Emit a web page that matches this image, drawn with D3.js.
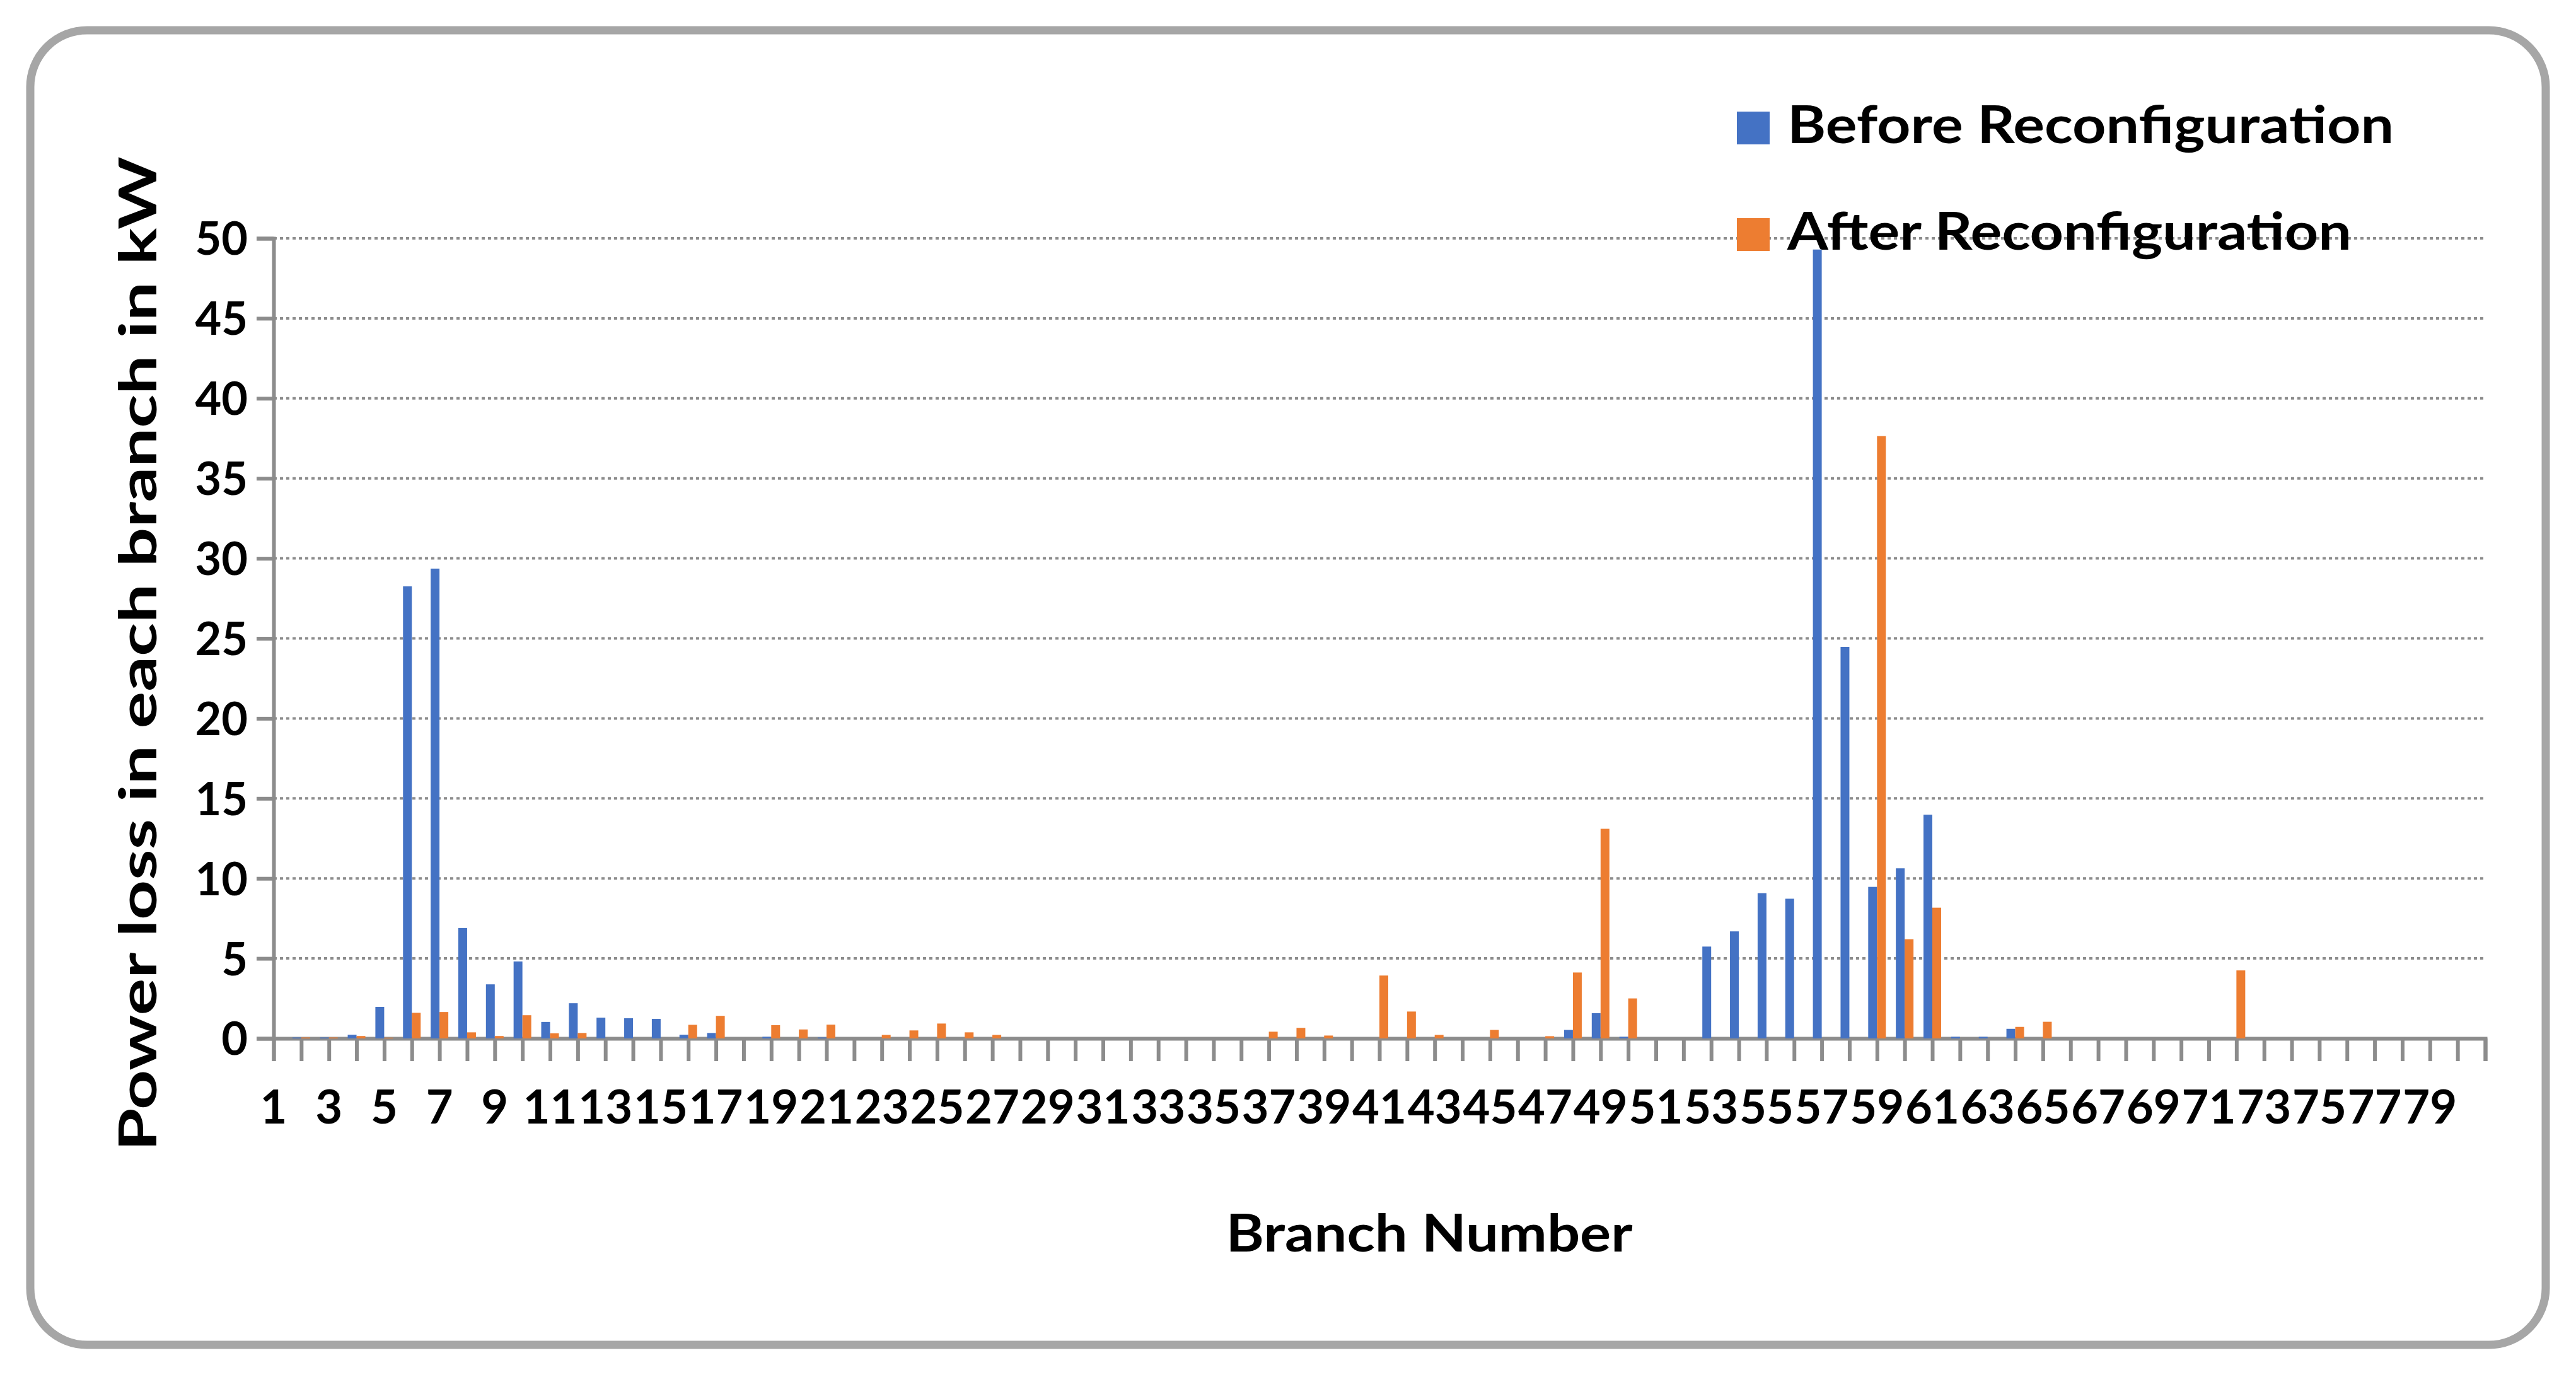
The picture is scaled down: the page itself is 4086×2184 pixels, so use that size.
<!DOCTYPE html>
<html><head><meta charset="utf-8">
<script src="https://cdn.jsdelivr.net/npm/d3@7"></script>
<style>body{margin:0;background:#fff}svg{display:block}</style>
</head><body>
<script>
const categories = d3.range(1, 82);
const beforeValues = [0,0.06,0.06,0.23,1.97,28.25,29.36,6.9,3.38,4.81,1.03,2.2,1.3,1.26,1.22,0.23,0.34,0,0.1,0,0.06,0,0,0,0,0,0,0,0,0,0,0,0,0,0,0,0,0,0,0,0,0,0,0,0,0,0,0.53,1.58,0.1,0,0,5.74,6.69,9.08,8.73,49.3,24.47,9.47,10.63,13.98,0.1,0.1,0.6,0,0,0,0,0,0,0,0,0,0,0,0,0,0,0,0,0];
const afterValues = [0,0.06,0.06,0.15,0.05,1.6,1.65,0.38,0.15,1.45,0.32,0.34,0,0,0,0.85,1.41,0,0.83,0.56,0.86,0,0.22,0.5,0.93,0.38,0.22,0,0,0,0,0,0,0,0,0,0.42,0.66,0.18,0,3.93,1.68,0.22,0,0.53,0,0.14,4.12,13.1,2.5,0,0,0,0,0,0,0,0,37.64,6.2,8.17,0,0,0.72,1.04,0,0,0,0,0,0,4.25,0,0,0,0,0,0,0,0,0];
const yTicks = [0,5,10,15,20,25,30,35,40,45,50];
const xLabels = categories.filter(c => c % 2 === 1 && c <= 79);
const seriesNames = ["Before Reconfiguration", "After Reconfiguration"];
const colors = ["#4472C4", "#ED7D31"];

const W = 4086, H = 2184;
const svg = d3.select("body").append("svg").attr("width", W).attr("height", H);
const font = "Lato, 'Open Sans', sans-serif";

svg.append("rect").attr("x", 48).attr("y", 48).attr("width", 3990).attr("height", 2085)
  .attr("rx", 90).attr("fill", "#fff").attr("stroke", "#a6a6a6").attr("stroke-width", 13);

const x = d3.scaleLinear().domain([1, 81]).range([434, 3942]);
const y = d3.scaleLinear().domain([0, 50]).range([1647, 378]);
const gray = "#8c8c8c";

// gridlines
svg.append("g").selectAll("line").data(yTicks.filter(t => t > 0)).join("line")
  .attr("x1", 434).attr("x2", 3942).attr("y1", d => y(d)).attr("y2", d => y(d))
  .attr("stroke", gray).attr("stroke-width", 4).attr("stroke-dasharray", "5,5");

// y axis
const yAxis = svg.append("g").attr("transform", "translate(434,0)")
  .call(d3.axisLeft(y).tickValues(yTicks).tickSize(27).tickPadding(14));
yAxis.select(".domain").attr("stroke", gray).attr("stroke-width", 6);
yAxis.selectAll(".tick line").attr("stroke", gray).attr("stroke-width", 6);
yAxis.selectAll("text").attr("font-family", font).attr("font-weight", "bold")
  .attr("font-size", 72).attr("fill", "#000").attr("dy", "0.36em");

// x axis
const xAxis = svg.append("g").attr("transform", `translate(0,${y(0)})`)
  .call(d3.axisBottom(x).tickValues(categories).tickSize(36).tickFormat(""));
xAxis.select(".domain").attr("stroke", gray).attr("stroke-width", 6);
xAxis.selectAll(".tick line").attr("stroke", gray).attr("stroke-width", 6);

svg.append("g").selectAll("text").data(xLabels).join("text")
  .attr("x", d => x(d)).attr("y", 1782).attr("text-anchor", "middle")
  .attr("font-family", font).attr("font-weight", "bold").attr("font-size", 74)
  .attr("textLength", d => d >= 10 ? 86 : null).attr("lengthAdjust", "spacingAndGlyphs")
  .text(d => d);

// bars
const bw = 14;
[beforeValues, afterValues].forEach((vals, s) => {
  svg.append("g").selectAll("rect").data(categories).join("rect")
    .attr("x", (d) => s === 0 ? x(d) - bw : x(d))
    .attr("width", bw)
    .attr("y", (d, i) => y(vals[i]))
    .attr("height", (d, i) => y(0) - y(vals[i]))
    .attr("fill", colors[s]);
});

// legend
seriesNames.forEach((n, i) => {
  const ly = 177 + i * 169;
  svg.append("rect").attr("x", 2755).attr("y", ly).attr("width", 52).attr("height", 52).attr("fill", colors[i]);
  svg.append("text").attr("x", 2835).attr("y", ly + 50).attr("font-family", font).attr("font-weight", "bold")
    .attr("font-size", 82).attr("textLength", i === 0 ? 962 : 895).attr("lengthAdjust", "spacingAndGlyphs").text(n);
});

// titles
svg.append("text").attr("x", 2267).attr("y", 1985).attr("text-anchor", "middle")
  .attr("font-family", font).attr("font-weight", "bold").attr("font-size", 82)
  .attr("textLength", 645).attr("lengthAdjust", "spacingAndGlyphs").text("Branch Number");
svg.append("text").attr("transform", "translate(218,1037) rotate(-90)").attr("text-anchor", "middle")
  .attr("dy", "0.36em").attr("font-family", font).attr("font-weight", "bold").attr("font-size", 82)
  .attr("textLength", 1577).attr("lengthAdjust", "spacingAndGlyphs").text("Power loss in each branch in kW");
</script>
</body></html>
